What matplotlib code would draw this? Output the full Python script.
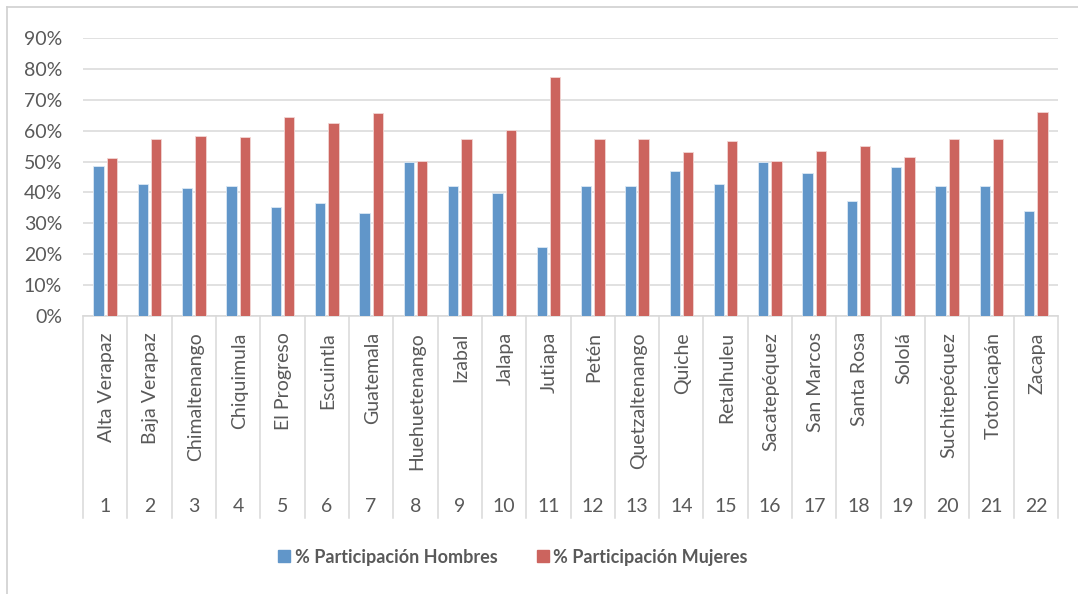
import numpy as np
import matplotlib.pyplot as plt
from matplotlib.lines import Line2D
from matplotlib.ticker import FuncFormatter
import matplotlib.transforms as mtransforms

departamentos = ["Alta Verapaz", "Baja Verapaz", "Chimaltenango", "Chiquimula",
                 "El Progreso", "Escuintla", "Guatemala", "Huehuetenango",
                 "Izabal", "Jalapa", "Jutiapa", "Petén", "Quetzaltenango",
                 "Quiche", "Retalhuleu", "Sacatepéquez", "San Marcos",
                 "Santa Rosa", "Sololá", "Suchitepéquez", "Totonicapán", "Zacapa"]
numeros = [str(i) for i in range(1, 23)]

hombres = [48.7, 42.6, 41.6, 42.0, 35.3, 36.7, 33.5, 49.7, 42.0, 39.8, 22.5,
           42.0, 42.0, 46.8, 42.6, 49.7, 46.3, 37.3, 48.3, 42.0, 42.0, 33.9]
mujeres = [51.1, 57.4, 58.2, 57.8, 64.4, 62.4, 65.8, 50.1, 57.4, 60.2, 77.4,
           57.4, 57.4, 53.0, 56.8, 50.1, 53.5, 55.0, 51.5, 57.4, 57.4, 65.9]

azul = "#6196c9"
rojo = "#cc645e"
gris_txt = "#595959"
gris_linea = "#d9d9d9"

plt.rcParams["font.family"] = ["Lato", "DejaVu Sans"]

fig = plt.figure(figsize=(10.78, 5.94), dpi=100)
ax = fig.add_axes([0.077, 0.468, 0.9045, 0.468])

x = np.arange(len(departamentos))
w = 0.233
ax.bar(x - 0.15, hombres, w, color=azul, edgecolor="#dce8f4", linewidth=0.6, zorder=3)
ax.bar(x + 0.15, mujeres, w, color=rojo, edgecolor="#f2d6d4", linewidth=0.6, zorder=3)

ax.set_xlim(-0.5, len(departamentos) - 0.5)
ax.set_ylim(0, 90)
ax.set_yticks(np.arange(0, 91, 10))
ax.yaxis.set_major_formatter(FuncFormatter(lambda v, p: f"{v:.0f}%"))
ax.tick_params(axis="y", length=0, pad=15, labelsize=14, labelcolor=gris_txt)
ax.set_xticks([])
ax.grid(axis="y", color=gris_linea, linewidth=1.1, zorder=0)
for s in ["top", "right", "left"]:
    ax.spines[s].set_visible(False)
ax.spines["bottom"].set_color(gris_linea)
ax.spines["bottom"].set_linewidth(1.1)

# two-level category axis: names rotated, numbers below, separators between
trans = mtransforms.blended_transform_factory(ax.transData, ax.transAxes)
for i in range(len(departamentos) + 1):
    ax.add_line(Line2D([i - 0.5, i - 0.5], [0, -0.725], transform=trans,
                       color=gris_linea, linewidth=1.1, clip_on=False))
for i, (nom, num) in enumerate(zip(departamentos, numeros)):
    ax.text(i + 0.03, -0.058, nom, transform=trans, rotation=90, ha="center",
            va="top", fontsize=14, color=gris_txt)
    ax.text(i, -0.687, num, transform=trans, ha="center", va="center",
            fontsize=14, color=gris_txt)

# legend
handles = [plt.Rectangle((0, 0), 1, 1, color=azul),
           plt.Rectangle((0, 0), 1, 1, color=rojo)]
fig.legend(handles, ["% Participación Hombres", "% Participación Mujeres"],
           loc="center", bbox_to_anchor=(0.476, 0.062), ncol=2, frameon=False,
           handlelength=0.65, handleheight=0.65, handletextpad=0.25,
           columnspacing=2.2, prop={"weight": "bold", "size": 13},
           labelcolor=gris_txt)

# chart frame
fig.add_artist(Line2D([7 / 1078, 7 / 1078], [0, 1 - 7 / 594],
                      transform=fig.transFigure, color="#d0d0d0", linewidth=1.2))
fig.add_artist(Line2D([7 / 1078, 1], [1 - 7 / 594, 1 - 7 / 594],
                      transform=fig.transFigure, color="#d0d0d0", linewidth=1.2))

fig.savefig("out.png", dpi=100, facecolor="white")
